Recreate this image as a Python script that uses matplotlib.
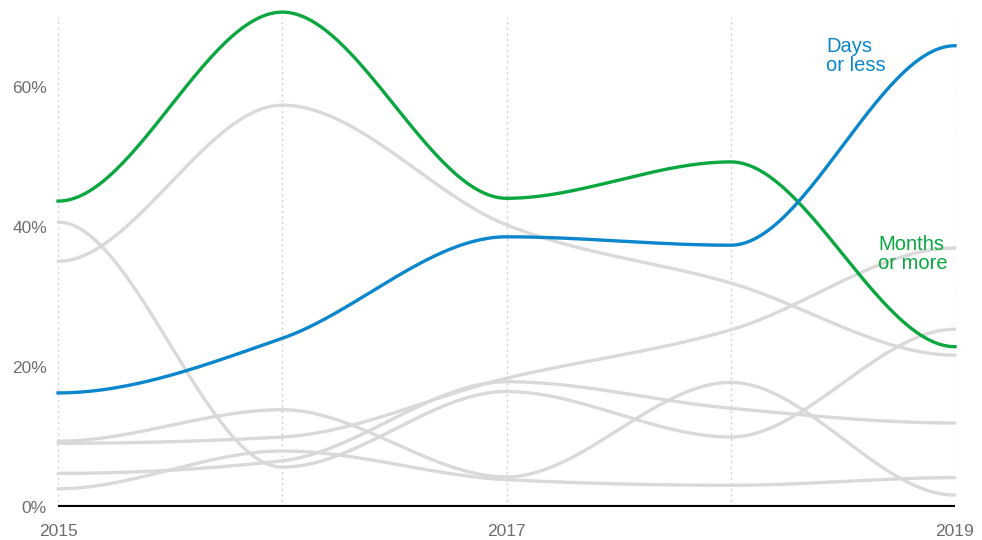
import numpy as np
import matplotlib
matplotlib.use("Agg")
import matplotlib.pyplot as plt

plt.rcParams['font.family'] = ['Liberation Sans', 'DejaVu Sans']

years = [2015, 2016, 2017, 2018, 2019]
days_or_less = [16.3, 24.1, 38.6, 37.4, 65.9]
months_or_more = [43.7, 70.7, 44.1, 49.3, 22.9]
# other answer groups (grey)
others = [
    [35.1, 57.4, 40.3, 32.0, 21.7],
    [40.7, 5.7, 16.5, 10.0, 25.4],
    [9.1, 10.0, 18.4, 25.3, 37.0],
    [9.4, 13.9, 4.3, 17.8, 1.7],
    [4.8, 6.6, 17.9, 14.1, 12.0],
    [2.6, 8.0, 3.9, 3.1, 4.2],
]
ytick_vals = [0, 20, 40, 60]
xtick_vals = [2015, 2017, 2019]

BLUE = '#0a86cc'
GREEN = '#0aa640'
GREY = '#d9d9d9'


def monotone(xs, ys, n=60):
    # monotone cubic, flat at both ends
    x = np.asarray(xs, float)
    y = np.asarray(ys, float)
    h = np.diff(x)
    s = np.diff(y) / h
    m = np.zeros(len(x))
    for i in range(1, len(x) - 1):
        p = (s[i - 1] * h[i] + s[i] * h[i - 1]) / (h[i - 1] + h[i])
        m[i] = (np.sign(s[i - 1]) + np.sign(s[i])) * min(abs(s[i - 1]), abs(s[i]), 0.5 * abs(p))
    px, py = [], []
    for i in range(len(x) - 1):
        t = np.linspace(0, 1, n)
        h00 = 2 * t**3 - 3 * t**2 + 1
        h10 = t**3 - 2 * t**2 + t
        h01 = -2 * t**3 + 3 * t**2
        h11 = t**3 - t**2
        px.extend(x[i] + t * h[i])
        py.extend(h00 * y[i] + h10 * h[i] * m[i] + h01 * y[i + 1] + h11 * h[i] * m[i + 1])
    return np.array(px), np.array(py)


fig = plt.figure(figsize=(9.82, 5.4), dpi=100)
ax = fig.add_axes([0.0591, 0.0611, 0.9134, 0.9074])

for yr in years:
    ax.axvline(yr, color='#cfcfcf', lw=1, ls=(0, (1.5, 2.5)), zorder=0)

for ser in others:
    xx, yy = monotone(years, ser)
    ax.plot(xx, yy, color=GREY, lw=2.4, solid_capstyle='round', zorder=2, clip_on=False)

xx, yy = monotone(years, months_or_more)
ax.plot(xx, yy, color=GREEN, lw=2.4, zorder=3, clip_on=False)
xx, yy = monotone(years, days_or_less)
ax.plot(xx, yy, color=BLUE, lw=2.4, zorder=4, clip_on=False)

ax.axhline(0, color='black', lw=3, zorder=5)

ax.text(2018.425, 64.4, 'Days\nor less', color=BLUE, fontsize=14.5,
        ha='left', va='center', linespacing=1.0)
ax.text(2018.657, 36.2, 'Months\nor more', color=GREEN, fontsize=14.5,
        ha='left', va='center', linespacing=1.0)

ax.set_xlim(2015, 2019)
ax.set_ylim(0, 70)
ax.set_yticks(ytick_vals)
ax.set_yticklabels([f'{v}%' for v in ytick_vals])
ax.set_xticks(xtick_vals)
ax.set_xticklabels([str(v) for v in xtick_vals])
ax.tick_params(length=0, labelsize=12.5, labelcolor='#6e6e6e')
ax.tick_params(axis='y', pad=8)
ax.tick_params(axis='x', pad=12)
for sp in ax.spines.values():
    sp.set_visible(False)

fig.savefig('out.png', dpi=100)
